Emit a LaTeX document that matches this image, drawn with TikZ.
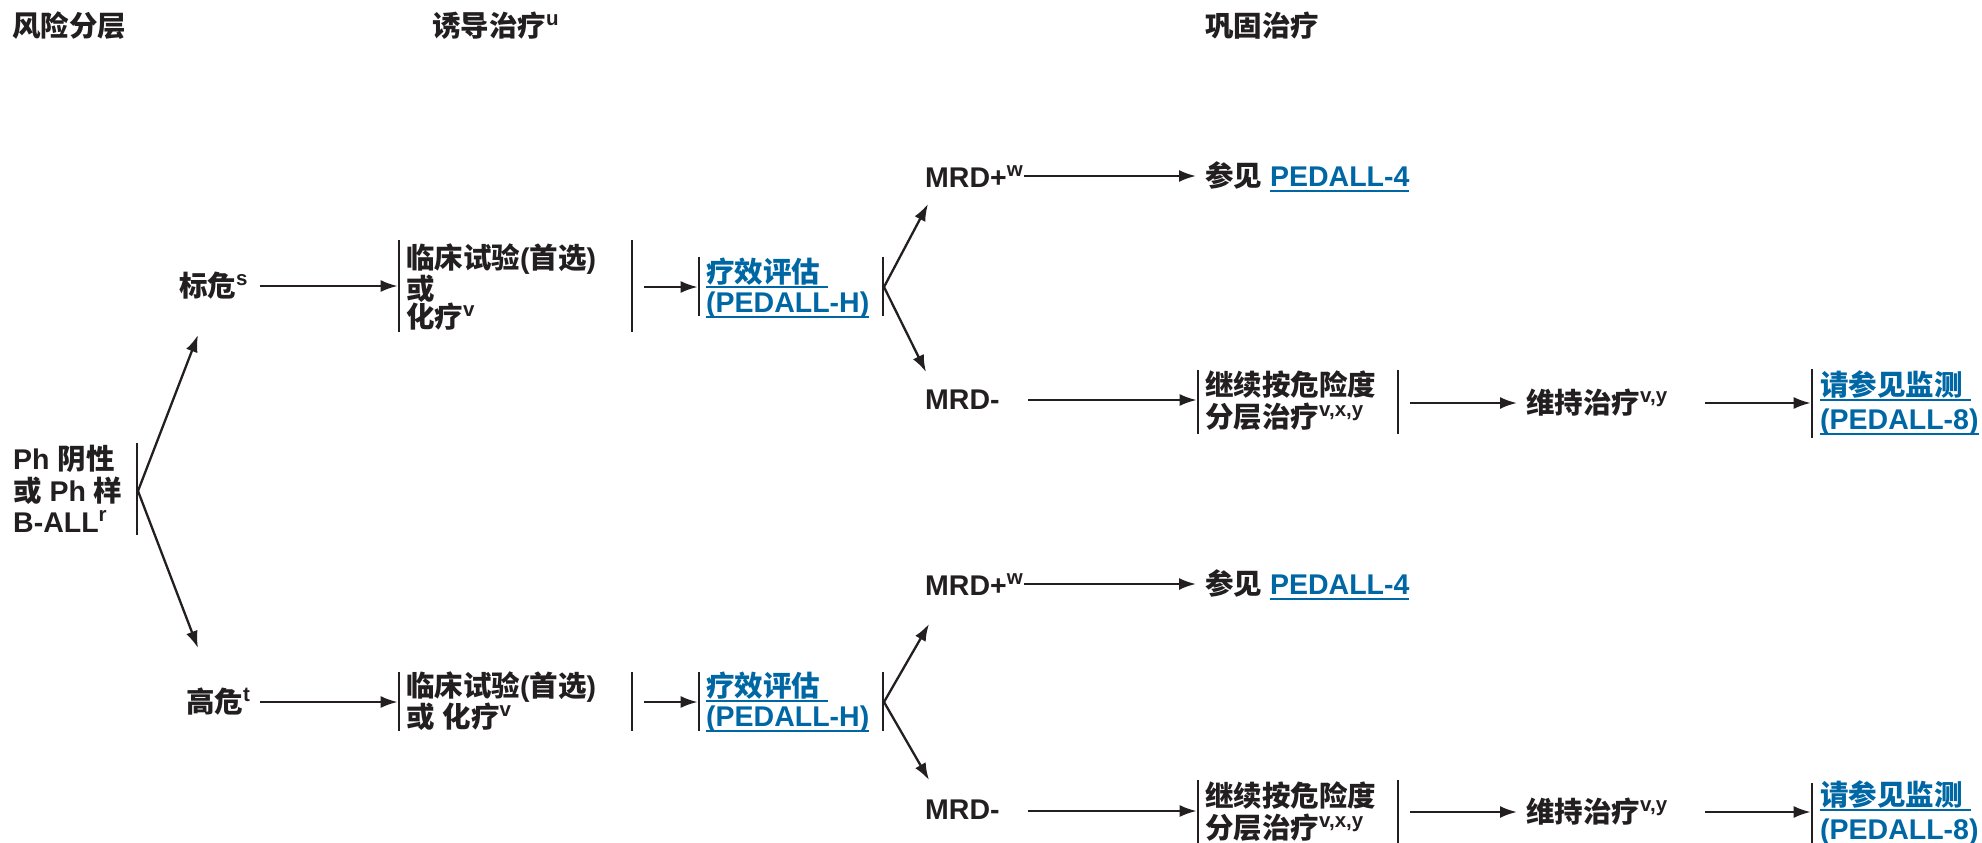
\documentclass[tikz,border=0pt]{standalone}
\usepackage{fontspec}
\setmainfont{Liberation Sans}
\newfontfamily\cjkf{Noto Sans CJK SC}
\usetikzlibrary{arrows.meta}
\definecolor{ink}{HTML}{231F20}
\definecolor{linkblue}{HTML}{0067A5}
\newcommand\zh[1]{{\cjkf #1}}
\newcommand\sups[1]{\raisebox{11pt}{\fontsize{20.5}{20.5}\selectfont #1}}
\newcommand\lnk[1]{\setbox0\hbox{#1}\rlap{\rule[-6pt]{\wd0}{2.2pt}}\box0}
\newcommand\fs[1]{\bfseries\fontsize{28.5}{#1}\selectfont}
\begin{document}
\begin{tikzpicture}[x=1pt,y=-1pt,
 txt/.style={inner sep=0pt, anchor=west, align=left, text=ink, font=\fs{30}},
 link/.style={txt, text=linkblue},
 arr/.style={draw=ink, line width=2.3pt, -{Latex[length=17pt,width=12pt]}},
 ln/.style={draw=ink, line width=2.3pt},
 bar/.style={draw=ink, line width=2.6pt}]
\useasboundingbox (0,0) rectangle (1982,843);

% headers
\node[txt] (h1) at (12,26) {\zh{风险分层}};
\node[txt] (h2) at (432,26) {\zh{诱导治疗}\sups{u}};
\node[txt] (h3) at (1205,26) {\zh{巩固治疗}};

% root
\node[txt, font=\fs{31.5}] (root) at (13,489) {Ph \zh{阴性}\\\zh{或} Ph \zh{样}\\B-ALL\sups{r}};
\draw[bar] (137,443) -- (137,535);
\coordinate (rootR) at (138,491);
\coordinate (stdIn) at (198,335);
\coordinate (highIn) at (198,648);
\draw[arr] (rootR) -- (stdIn);
\draw[arr] (rootR) -- (highIn);

% ---------- standard risk ----------
\node[txt] (std) at (179,286) {\zh{标危}\sups{s}};
\node[txt, font=\fs{28.5}] (ind1) at (406,287) {\zh{临床试验}(\zh{首选})\\\zh{或}\\\zh{化疗}\sups{v}};
\draw[bar] (399,240) -- (399,332);
\draw[bar] (632,240) -- (632,332);
\coordinate (ind1L) at (397.7,286);
\coordinate (ind1R) at (644,287);
\draw[arr] ([xshift=12pt]std.east) -- (ind1L);

\node[link] (ev1) at (706,288) {\lnk{\zh{疗效评估}\ }\\\lnk{(PEDALL-H)}};
\draw[bar] (699,257) -- (699,316);
\draw[bar] (883,257) -- (883,316);
\coordinate (ev1L) at (697.7,287);
\coordinate (ev1R) at (884,287);
\draw[arr] (ind1R) -- (ev1L);

\coordinate (mp1In) at (928,204);
\coordinate (mm1In) at (926,372);
\draw[arr] (ev1R) -- (mp1In);
\draw[arr] (ev1R) -- (mm1In);

\node[txt] (mp1) at (925,177) {MRD+\sups{w}};
\node[txt] (rf1) at (1205,177) {\zh{参见} {\color{linkblue}\lnk{PEDALL-4}}};
\draw[arr] ([xshift=1pt]mp1.east |- 0,176) -- ([xshift=-9pt]rf1.west |- 0,176);

\node[txt] (mm1) at (925,400) {MRD-};
\node[txt, font=\fs{32}] (ct1) at (1205,401) {\zh{继续按危险度}\\\zh{分层治疗}\sups{v,x,y}};
\draw[bar] (1198,370) -- (1198,434);
\draw[bar] (1398,370) -- (1398,434);
\coordinate (ct1L) at (1196.7,400);
\coordinate (ct1R) at (1410,403);
\draw[arr] ([xshift=28pt]mm1.east |- 0,400) -- (ct1L);

\node[txt] (mt1) at (1526,403) {\zh{维持治疗}\sups{v,y}};
\draw[arr] (ct1R) -- ([xshift=-9pt]mt1.west);

\node[link, font=\fs{34}] (mo1) at (1820,403) {\lnk{\zh{请参见监测}\ }\\\lnk{(PEDALL-8)}};
\draw[bar] (1812,369) -- (1812,438);
\coordinate (mo1L) at (1810.7,403);
\draw[arr] ([xshift=38pt]mt1.east) -- (mo1L);

% ---------- high risk ----------
\node[txt] (high) at (186,702) {\zh{高危}\sups{t}};
\node[txt] (ind2) at (406,701) {\zh{临床试验}(\zh{首选})\\\zh{或} \zh{化疗}\sups{v}};
\draw[bar] (399,672) -- (399,731);
\draw[bar] (632,672) -- (632,731);
\coordinate (ind2L) at (397.7,702);
\coordinate (ind2R) at (644,702);
\draw[arr] ([xshift=10pt]high.east) -- (ind2L);

\node[link] (ev2) at (706,702) {\lnk{\zh{疗效评估}\ }\\\lnk{(PEDALL-H)}};
\draw[bar] (699,672) -- (699,731);
\draw[bar] (883,672) -- (883,731);
\coordinate (ev2L) at (697.7,702);
\coordinate (ev2R) at (884,702);
\draw[arr] (ind2R) -- (ev2L);

\coordinate (mp2In) at (929,624);
\coordinate (mm2In) at (929,780);
\draw[arr] (ev2R) -- (mp2In);
\draw[arr] (ev2R) -- (mm2In);

\node[txt] (mp2) at (925,585) {MRD+\sups{w}};
\node[txt] (rf2) at (1205,585) {\zh{参见} {\color{linkblue}\lnk{PEDALL-4}}};
\draw[arr] ([xshift=1pt]mp2.east |- 0,584) -- ([xshift=-9pt]rf2.west |- 0,584);

\node[txt] (mm2) at (925,810) {MRD-};
\node[txt, font=\fs{32}] (ct2) at (1205,812) {\zh{继续按危险度}\\\zh{分层治疗}\sups{v,x,y}};
\draw[bar] (1198,780) -- (1198,845);
\draw[bar] (1398,780) -- (1398,845);
\coordinate (ct2L) at (1196.7,811);
\coordinate (ct2R) at (1410,812);
\draw[arr] ([xshift=28pt]mm2.east |- 0,811) -- (ct2L);

\node[txt] (mt2) at (1526,812) {\zh{维持治疗}\sups{v,y}};
\draw[arr] (ct2R) -- ([xshift=-9pt]mt2.west);

\node[link, font=\fs{34}] (mo2) at (1820,813) {\lnk{\zh{请参见监测}\ }\\\lnk{(PEDALL-8)}};
\draw[bar] (1812,783) -- (1812,845);
\coordinate (mo2L) at (1810.7,812);
\draw[arr] ([xshift=38pt]mt2.east) -- (mo2L);
\end{tikzpicture}
\end{document}
